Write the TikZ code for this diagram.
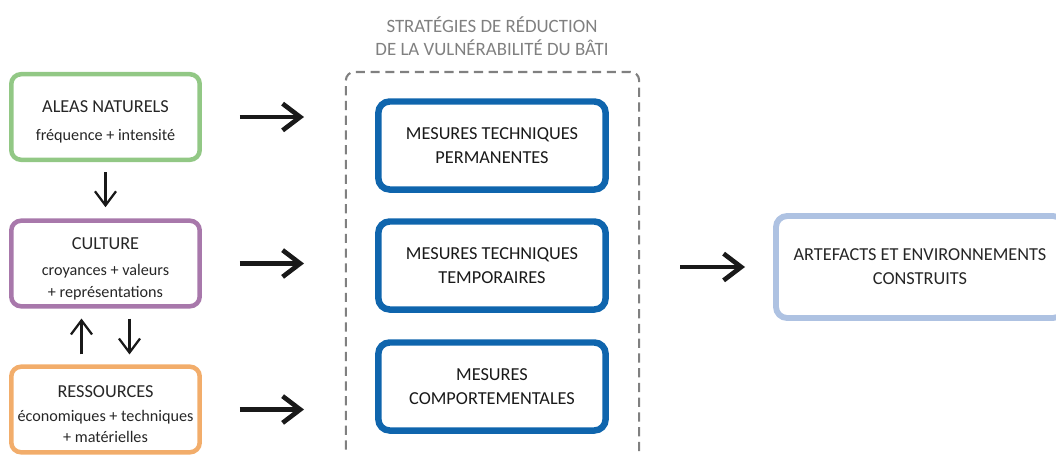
\documentclass[tikz,border=0pt]{standalone}
\usepackage{fontspec}
\setmainfont{Carlito}
\usepackage{tikz}
\usetikzlibrary{arrows.meta}
\usetikzlibrary{positioning}
\definecolor{vertalea}{RGB}{146,200,133}
\definecolor{violetcult}{RGB}{168,120,171}
\definecolor{orangeres}{RGB}{242,173,107}
\definecolor{bleumes}{RGB}{15,101,173}
\definecolor{bleuart}{RGB}{174,194,226}
\newcommand{\titre}{\fontsize{13}{17}\selectfont}
\newcommand{\soustitre}{\fontsize{11.5}{15}\selectfont}
\newcommand{\entete}[1]{{\titre\rule{0pt}{15.5pt}#1}}
\tikzstyle{fac} = [rectangle, draw, rounded corners=7pt, line width=3.2pt, minimum width=4.71cm, minimum height=2.14cm, align=center, text=black!85, font=\soustitre]
\tikzstyle{mes} = [rectangle, draw=bleumes, rounded corners=8pt, line width=4.6pt, minimum width=5.68cm, minimum height=2.2cm, align=center, text=black!90, font=\titre]
\tikzstyle{fl} = [-{Straight Barb[length=12.5pt,width=19pt]}, line width=3.3pt, black!90]
\tikzstyle{vfl} = [-{Straight Barb[length=10pt,width=15pt]}, line width=1.6pt, black!90]

\begin{document}
\begin{tikzpicture}[x=0.025cm,y=-0.025cm]
	\useasboundingbox (0,0) rectangle (1056,454);
	% facteurs
	\node[fac, draw=vertalea] (aleas) at (105.5,117) {\entete{ALEAS NATURELS}\\[5pt]fréquence + intensité};
	\node[fac, draw=violetcult] (culture) at (105.5,263.5) {\entete{CULTURE}\\[4pt]croyances + valeurs\\+ représentations};
	\node[fac, draw=orangeres] (ress) at (105.5,409.5) {\entete{RESSOURCES}\\[2pt]économiques + techniques\\+ matérielles};
	% strategies
	\node[rectangle, draw=black!50, dash pattern=on 6.5pt off 4pt, line width=1.5pt, rounded corners=6pt, minimum width=7.33cm, minimum height=10.2cm] (strat) at (492.5,276) {};
	\node[text=black!50, align=center, font=\fontsize{13.4}{16.5}\selectfont] (titre) at (492,36) {STRATÉGIES DE RÉDUCTION\\DE LA VULNÉRABILITÉ DU BÂTI};
	\node[mes] (perm) at (492,145.5) {MESURES TECHNIQUES\\PERMANENTES};
	\node[mes] (temp) at (492,265.5) {MESURES TECHNIQUES\\TEMPORAIRES};
	\node[mes] (comp) at (492,386.5) {MESURES\\COMPORTEMENTALES};
	\node[rectangle, draw=bleuart, rounded corners=8pt, line width=4.2pt, minimum width=7.2cm, minimum height=2.55cm, align=center, text=black!85, font=\titre] (art) at (920,267) {ARTEFACTS ET ENVIRONNEMENTS\\CONSTRUITS};
	% fleches
	\foreach \n in {aleas,culture,ress}
		\draw[fl, shorten <=0.95cm, shorten >=1.02cm] (\n.east) -- (\n.east -| strat.west);
	\draw[fl, shorten <=1cm, shorten >=0.7cm] (strat.east |- art.west) -- (art.west);
	\draw[vfl, shorten <=0.25cm, shorten >=0.28cm] (aleas) -- (culture);
	\draw[vfl, shorten <=0.25cm, shorten >=0.25cm] ([xshift=-0.6cm]ress.north) -- ([xshift=-0.6cm]culture.south);
	\draw[vfl, shorten <=0.25cm, shorten >=0.25cm] ([xshift=0.6cm]culture.south) -- ([xshift=0.6cm]ress.north);
\end{tikzpicture}
\end{document}
